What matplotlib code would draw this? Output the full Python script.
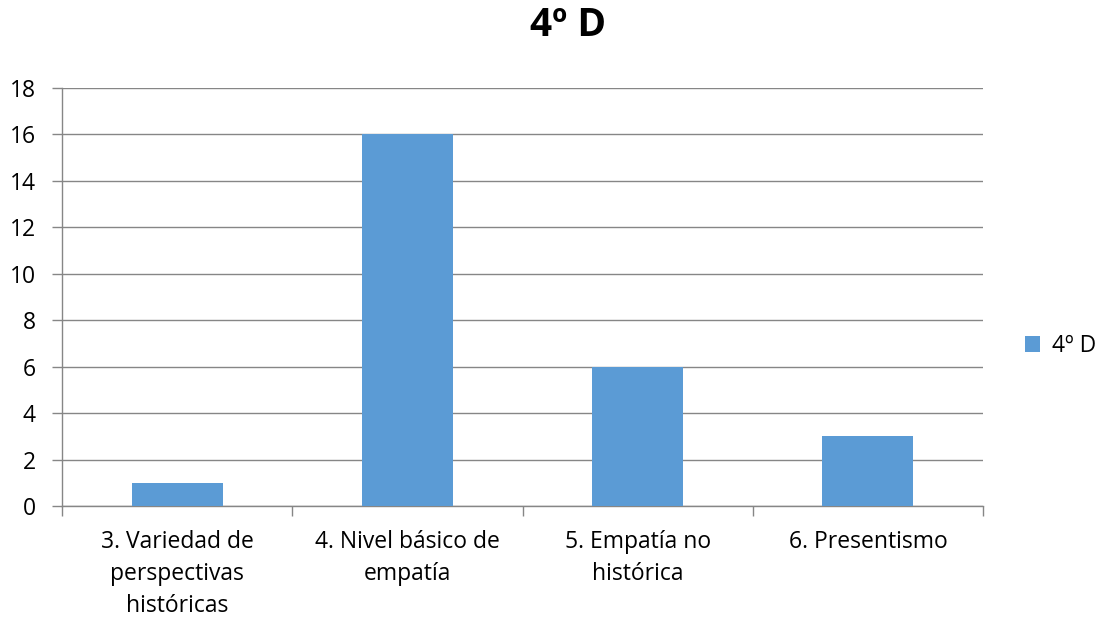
import matplotlib
matplotlib.use("Agg")
import matplotlib.pyplot as plt
from matplotlib.patches import Patch

plt.rcParams['font.family'] = ['Open Sans', 'DejaVu Sans']

categories = ["3. Variedad de\nperspectivas\nhistóricas",
              "4. Nivel básico de\nempatía",
              "5. Empatía no\nhistórica",
              "6. Presentismo"]
values = [1, 16, 6, 3]
series_name = "4º D"
yticks = [0, 2, 4, 6, 8, 10, 12, 14, 16, 18]

bar_color = "#5B9BD5"
grid_color = "#868686"
text_color = "#000000"
label_size = 16.5

fig = plt.figure(figsize=(11.10, 6.18), dpi=100)
ax = fig.add_axes([0.0559, 0.1812, 0.8297, 0.6764])

x = list(range(len(categories)))
ax.bar(x, values, width=0.395, color=bar_color, zorder=3)

ax.set_xlim(-0.5, len(categories) - 0.5)
ax.set_ylim(0, 18)
ax.set_yticks(yticks)
ax.set_yticklabels([str(v) for v in yticks], fontsize=label_size, color=text_color)
ax.yaxis.grid(True, color=grid_color, linewidth=1.0, zorder=0)
ax.tick_params(axis='y', length=7, width=1, color=grid_color, pad=12, direction='out')

# category labels centred, tick marks on category boundaries
ax.set_xticks(x)
ax.set_xticklabels(categories, fontsize=label_size, color=text_color, linespacing=1.45)
ax.tick_params(axis='x', which='major', length=0, pad=17)
ax.set_xticks([i - 0.5 for i in range(len(categories) + 1)], minor=True)
ax.tick_params(axis='x', which='minor', length=7, width=1, color=grid_color, direction='out')

for side in ("top", "right"):
    ax.spines[side].set_visible(False)
for side in ("left", "bottom"):
    ax.spines[side].set_color(grid_color)
    ax.spines[side].set_linewidth(1.0)

fig.suptitle(series_name, fontsize=28, fontweight='bold', x=0.512, y=0.99)

handle = Patch(facecolor=bar_color, edgecolor='none')
fig.legend([handle], [series_name], loc='center left', bbox_to_anchor=(0.905, 0.44),
           frameon=False, fontsize=label_size, handlelength=0.65, handleheight=0.65,
           handletextpad=0.5)

fig.savefig("out.png", dpi=100)
